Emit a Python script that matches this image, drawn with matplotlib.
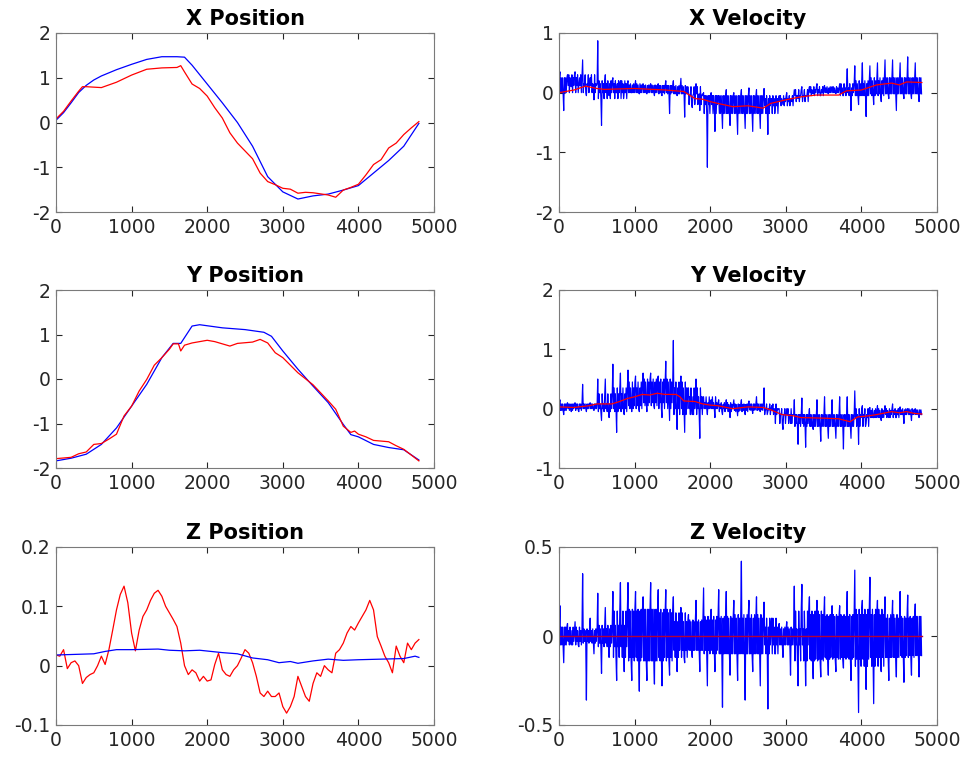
import numpy as np
import matplotlib
matplotlib.use("Agg")
import matplotlib.pyplot as plt

# ---- position traces (estimate in blue, measurement in red) ----
x_pos_blue_t = [0, 100, 200, 300, 400, 500, 600, 800, 1000, 1200, 1400, 1600, 1700, 1800, 2000,
                2200, 2400, 2600, 2800, 3000, 3200, 3400, 3600, 3800, 4000, 4200, 4400, 4600, 4800]
x_pos_blue = [0.05, 0.22, 0.44, 0.67, 0.83, 0.95, 1.04, 1.18, 1.30, 1.41, 1.47, 1.47, 1.46, 1.28, 0.86,
              0.44, 0.00, -0.53, -1.21, -1.55, -1.71, -1.64, -1.60, -1.51, -1.41, -1.13, -0.85, -0.53, -0.02]
x_pos_red_t = [0, 100, 200, 300, 350, 400, 500, 600, 800, 1000, 1200, 1400, 1600, 1650, 1700, 1800, 1900,
               2000, 2100, 2200, 2300, 2400, 2600, 2700, 2800, 2900, 3000, 3100, 3200, 3300, 3400, 3600,
               3700, 3800, 3900, 4000, 4100, 4200, 4300, 4400, 4500, 4600, 4700, 4800]
x_pos_red = [0.08, 0.25, 0.48, 0.70, 0.80, 0.80, 0.79, 0.78, 0.90, 1.06, 1.19, 1.22, 1.23, 1.27, 1.13, 0.86, 0.76,
             0.59, 0.33, 0.10, -0.23, -0.46, -0.81, -1.13, -1.32, -1.39, -1.47, -1.49, -1.58, -1.56, -1.57, -1.62,
             -1.67, -1.51, -1.45, -1.38, -1.17, -0.94, -0.83, -0.57, -0.46, -0.27, -0.12, 0.02]

y_pos_blue_t = [0, 200, 400, 600, 800, 1000, 1200, 1400, 1550, 1650, 1800, 1900, 2200, 2500, 2750, 2850,
                3000, 3200, 3400, 3600, 3800, 3900, 4000, 4200, 4400, 4600, 4800]
y_pos_blue = [-1.84, -1.78, -1.69, -1.47, -1.10, -0.61, -0.12, 0.48, 0.80, 0.80, 1.19, 1.22, 1.15, 1.11, 1.05, 0.96,
              0.63, 0.22, -0.16, -0.53, -1.02, -1.25, -1.30, -1.47, -1.54, -1.59, -1.82]
y_pos_red_t = [0, 200, 300, 400, 500, 600, 700, 800, 900, 1000, 1100, 1200, 1300, 1400, 1500, 1550, 1620, 1650,
               1700, 1800, 2000, 2100, 2200, 2300, 2400, 2600, 2700, 2800, 2900, 3000, 3200, 3400, 3600, 3700,
               3800, 3900, 3950, 4000, 4100, 4200, 4400, 4500, 4600, 4800]
y_pos_red = [-1.79, -1.76, -1.68, -1.64, -1.47, -1.45, -1.35, -1.24, -0.83, -0.61, -0.27, -0.01, 0.31, 0.48, 0.67,
             0.79, 0.79, 0.63, 0.76, 0.81, 0.87, 0.84, 0.79, 0.74, 0.80, 0.83, 0.89, 0.81, 0.59, 0.48, 0.14, -0.13,
             -0.49, -0.68, -1.06, -1.20, -1.17, -1.24, -1.30, -1.38, -1.41, -1.50, -1.58, -1.84]

z_pos_blue_t = [0, 250, 500, 650, 800, 1000, 1350, 1500, 1700, 1900, 2200, 2400, 2600, 2800, 2950, 3100, 3200,
                3400, 3600, 3800, 4000, 4300, 4600, 4750, 4800]
z_pos_blue = [0.018, 0.019, 0.020, 0.024, 0.027, 0.027, 0.028, 0.026, 0.025, 0.026, 0.022, 0.020, 0.013, 0.010,
              0.005, 0.007, 0.004, 0.008, 0.011, 0.009, 0.010, 0.011, 0.012, 0.016, 0.014]
# red z position, one reading every 50 samples
z_pos_red = [0.018, 0.016, 0.027, -0.005, 0.005, 0.008, 0.000, -0.030, -0.020, -0.015,
             -0.012, 0.000, 0.016, 0.002, 0.027, 0.060, 0.094, 0.120, 0.134, 0.106,
             0.055, 0.025, 0.060, 0.083, 0.094, 0.110, 0.122, 0.127, 0.117, 0.100,
             0.089, 0.078, 0.066, 0.038, 0.000, -0.015, -0.007, -0.012, -0.026, -0.018,
             -0.026, -0.024, 0.002, 0.021, -0.007, -0.015, -0.018, -0.007, 0.000, 0.013,
             0.027, 0.021, 0.005, -0.018, -0.046, -0.052, -0.043, -0.052, -0.052, -0.046,
             -0.069, -0.080, -0.069, -0.052, -0.018, -0.035, -0.052, -0.060, -0.030, -0.012,
             -0.018, 0.000, -0.007, -0.012, 0.021, 0.027, 0.038, 0.055, 0.066, 0.060,
             0.072, 0.083, 0.094, 0.110, 0.094, 0.049, 0.033, 0.016, 0.005, -0.012,
             0.033, 0.016, 0.005, 0.038, 0.027, 0.038, 0.044]
z_pos_red_t = np.arange(0, 4801, 50)

# ---- velocity traces ----
# noisy blue signals: per 100-sample bin, highest and lowest excursion
vel_bins = np.arange(0, 4800, 100)
x_vel_hi = [0.35, 0.30, 0.35, 0.55, 0.25, 0.87, 0.30, 0.25, 0.20, 0.20, 0.20, 0.15, 0.15, 0.15, 0.20, 0.20,
            0.24, 0.00, 0.15, 0.00, 0.00, -0.05, 0.05, 0.00, 0.05, 0.08, 0.05, 0.07, -0.10, -0.05, 0.00, 0.05,
            0.10, 0.10, 0.15, 0.12, 0.10, 0.15, 0.40, 0.45, 0.50, 0.45, 0.50, 0.55, 0.55, 0.50, 0.60, 0.50]
x_vel_lo = [-0.30, 0.10, 0.12, -0.05, -0.12, -0.55, -0.05, 0.00, 0.00, 0.00, -0.02, -0.02, -0.05, -0.05, -0.35,
            -0.05, -0.41, -0.25, -0.30, -1.25, -0.65, -0.60, -0.55, -0.70, -0.60, -0.65, -0.60, -0.70, -0.25,
            -0.20, -0.12, -0.10, -0.05, -0.02, -0.05, -0.02, -0.02, -0.05, -0.30, -0.20, -0.40, -0.20, -0.15,
            -0.10, -0.30, -0.10, -0.10, -0.15]
y_vel_hi = [0.15, 0.10, 0.10, 0.41, 0.10, 0.50, 0.50, 0.75, 0.60, 0.65, 0.55, 0.60, 0.60, 0.55, 0.80, 1.15,
            0.55, 0.35, 0.50, 0.20, 0.15, 0.15, 0.15, 0.15, 0.15, 0.13, 0.20, 0.35, 0.05, 0.00, 0.00, 0.15,
            0.18, 0.00, 0.15, 0.20, 0.15, 0.20, 0.20, 0.30, 0.05, 0.02, 0.05, 0.05, 0.08, 0.03, 0.00, 0.00]
y_vel_lo = [-0.10, -0.05, -0.05, -0.05, -0.03, -0.20, -0.15, -0.40, -0.10, -0.05, -0.05, -0.05, 0.00, -0.15,
            -0.20, -0.35, -0.40, -0.10, -0.50, -0.10, -0.15, -0.10, -0.15, -0.12, -0.10, -0.08, -0.05, -0.05,
            -0.25, -0.35, -0.25, -0.60, -0.65, -0.35, -0.55, -0.50, -0.50, -0.68, -0.50, -0.60, -0.25, -0.15,
            -0.20, -0.15, -0.15, -0.25, -0.20, -0.15]
z_vel_hi = [0.17, 0.07, 0.08, 0.35, 0.10, 0.24, 0.16, 0.25, 0.30, 0.30, 0.25, 0.22, 0.30, 0.26, 0.26, 0.22,
            0.16, 0.12, 0.20, 0.27, 0.15, 0.26, 0.25, 0.20, 0.42, 0.20, 0.22, 0.19, 0.10, 0.07, 0.08, 0.28,
            0.29, 0.22, 0.20, 0.22, 0.17, 0.17, 0.25, 0.37, 0.20, 0.33, 0.20, 0.22, 0.20, 0.25, 0.23, 0.18]
z_vel_lo = [-0.15, -0.05, -0.06, -0.36, -0.10, -0.21, -0.12, -0.25, -0.20, -0.25, -0.31, -0.25, -0.27, -0.28,
            -0.22, -0.20, -0.15, -0.12, -0.20, -0.28, -0.20, -0.40, -0.22, -0.25, -0.36, -0.20, -0.28, -0.41,
            -0.10, -0.12, -0.22, -0.28, -0.28, -0.24, -0.23, -0.22, -0.20, -0.18, -0.25, -0.43, -0.30, -0.38,
            -0.20, -0.25, -0.23, -0.26, -0.22, -0.23]

# dense core of the noise, one reading per 200 samples
x_core_lo = [0.00, 0.12, 0.00, -0.10, 0.00, 0.00, 0.00, -0.02, -0.02, -0.20, -0.35, -0.35, -0.35, -0.35,
             -0.22, -0.15, -0.05, 0.00, 0.00, -0.05, -0.05, -0.02, -0.02, -0.02]
x_core_hi = [0.25, 0.30, 0.15, 0.20, 0.15, 0.13, 0.12, 0.12, 0.10, -0.05, -0.05, -0.05, -0.05, -0.05,
             -0.10, -0.05, 0.05, 0.10, 0.08, 0.15, 0.20, 0.25, 0.25, 0.25]
y_core_lo = [-0.03, 0.00, 0.00, -0.05, 0.00, 0.05, 0.10, 0.00, -0.10, 0.00, 0.00, -0.05, -0.03, -0.02,
             -0.10, -0.25, -0.30, -0.30, -0.30, -0.30, -0.15, -0.15, -0.10, -0.10]
y_core_hi = [0.08, 0.08, 0.08, 0.25, 0.35, 0.45, 0.50, 0.45, 0.35, 0.20, 0.10, 0.07, 0.08, 0.08, 0.00,
             -0.10, -0.10, -0.10, -0.10, -0.10, 0.00, -0.03, 0.00, -0.02]
z_core_lo = [-0.05, -0.03, -0.04, -0.06, -0.12, -0.14, -0.14, -0.12, -0.08, -0.08, -0.10, -0.10, -0.10,
             -0.10, -0.05, -0.05, -0.14, -0.13, -0.12, -0.13, -0.17, -0.12, -0.12, -0.11]
z_core_hi = [0.05, 0.03, 0.04, 0.06, 0.14, 0.15, 0.15, 0.13, 0.08, 0.09, 0.11, 0.10, 0.12, 0.10, 0.05,
             0.04, 0.14, 0.12, 0.11, 0.12, 0.15, 0.12, 0.10, 0.11]

# smooth red velocity estimates
x_vel_red_t = [0, 200, 350, 500, 600, 1000, 1400, 1650, 1800, 1900, 2000, 2100, 2300, 2500, 2700, 2800,
               3000, 3200, 3400, 3700, 3800, 4000, 4200, 4400, 4500, 4600, 4800]
x_vel_red = [0.00, 0.045, 0.11, 0.07, 0.055, 0.07, 0.045, 0.02, -0.10, -0.11, -0.15, -0.18, -0.235, -0.22,
             -0.26, -0.18, -0.12, -0.07, -0.04, -0.04, 0.03, 0.045, 0.13, 0.16, 0.13, 0.18, 0.17]
y_vel_red_t = [0, 200, 400, 500, 700, 800, 900, 1000, 1100, 1200, 1300, 1400, 1550, 1600, 1650, 1800, 1900,
               2000, 2100, 2300, 2500, 2700, 2800, 2950, 3100, 3200, 3500, 3700, 3850, 3950, 4100, 4200,
               4400, 4500, 4600, 4700, 4800]
y_vel_red = [0.03, 0.02, 0.05, 0.08, 0.08, 0.12, 0.17, 0.20, 0.24, 0.23, 0.26, 0.24, 0.24, 0.20, 0.13, 0.12,
             0.08, 0.06, 0.05, 0.00, 0.03, 0.02, -0.02, -0.10, -0.12, -0.15, -0.16, -0.17, -0.22, -0.14,
             -0.12, -0.10, -0.05, -0.07, -0.05, -0.08, -0.09]
z_vel_red_t = [0, 4800]
z_vel_red = [0.0, 0.0]

BLUE = "#0000ff"
RED = "#ff0000"


def noisy_trace(bins, hi, lo, core_lo, core_hi, width=100):
    # within each bin the trace bounces across the dense core (taking the
    # edges from this and the neighbouring core reading) and makes one
    # excursion up to the bin's high and one down to its low
    xs, ys = [], []
    last = len(core_lo) - 1
    for i, (b, h, l) in enumerate(zip(bins, hi, lo)):
        j = i // 2
        n = min(j + 1, last) if i % 2 else max(j - 1, 0)
        pattern = [core_hi[j], h, core_lo[n], core_hi[n], core_lo[j], core_hi[j],
                   core_lo[n], l, core_hi[n], core_lo[j], core_hi[j], core_lo[n]]
        step = width / len(pattern)
        for k, v in enumerate(pattern):
            xs.append(b + (k + 0.5) * step)
            ys.append(v)
    return xs, ys


def style(ax, title, ylim, yticks, ylabels):
    ax.set_title(title, fontsize=15, fontweight="bold", pad=6)
    ax.set_xlim(0, 5000)
    ax.set_ylim(*ylim)
    ax.set_xticks(range(0, 5001, 1000))
    ax.set_yticks(yticks)
    ax.set_yticklabels(ylabels)
    ax.tick_params(direction="in", top=True, right=True, labelsize=13.5, colors="#262626",
                   length=4, width=0.8, pad=4)
    for s in ax.spines.values():
        s.set_color("#7a7a7a")
        s.set_linewidth(0.8)


fig = plt.figure(figsize=(9.67, 7.59), dpi=100)
lx, rx, w = 56 / 967, 559 / 967, 378 / 967
rows = [(33, 212), (290, 468), (547, 725)]
axes = []
for top, bot in rows:
    b = 1 - bot / 759
    h = (bot - top) / 759
    axes.append((fig.add_axes([lx, b, w, h]), fig.add_axes([rx, b, w, h])))

# X
ax = axes[0][0]
ax.plot(x_pos_blue_t, x_pos_blue, color=BLUE, lw=0.9)
ax.plot(x_pos_red_t, x_pos_red, color=RED, lw=0.9)
style(ax, "X Position", (-2, 2), [-2, -1, 0, 1, 2], ["-2", "-1", "0", "1", "2"])

ax = axes[0][1]
nx, ny = noisy_trace(vel_bins, x_vel_hi, x_vel_lo, x_core_lo, x_core_hi)
ax.plot(nx, ny, color=BLUE, lw=0.85)
ax.plot(x_vel_red_t, x_vel_red, color=RED, lw=0.9)
style(ax, "X Velocity", (-2, 1), [-2, -1, 0, 1], ["-2", "-1", "0", "1"])

# Y
ax = axes[1][0]
ax.plot(y_pos_blue_t, y_pos_blue, color=BLUE, lw=0.9)
ax.plot(y_pos_red_t, y_pos_red, color=RED, lw=0.9)
style(ax, "Y Position", (-2, 2), [-2, -1, 0, 1, 2], ["-2", "-1", "0", "1", "2"])

ax = axes[1][1]
nx, ny = noisy_trace(vel_bins, y_vel_hi, y_vel_lo, y_core_lo, y_core_hi)
ax.plot(nx, ny, color=BLUE, lw=0.85)
ax.plot(y_vel_red_t, y_vel_red, color=RED, lw=0.9)
style(ax, "Y Velocity", (-1, 2), [-1, 0, 1, 2], ["-1", "0", "1", "2"])

# Z
ax = axes[2][0]
ax.plot(z_pos_red_t, z_pos_red, color=RED, lw=0.9)
ax.plot(z_pos_blue_t, z_pos_blue, color=BLUE, lw=0.9)
style(ax, "Z Position", (-0.1, 0.2), [-0.1, 0, 0.1, 0.2], ["-0.1", "0", "0.1", "0.2"])

ax = axes[2][1]
nx, ny = noisy_trace(vel_bins, z_vel_hi, z_vel_lo, z_core_lo, z_core_hi)
ax.plot(nx, ny, color=BLUE, lw=0.9)
ax.plot(z_vel_red_t, z_vel_red, color="#b0003a", lw=1.0)
style(ax, "Z Velocity", (-0.5, 0.5), [-0.5, 0, 0.5], ["-0.5", "0", "0.5"])

fig.savefig("out.png", dpi=100)
